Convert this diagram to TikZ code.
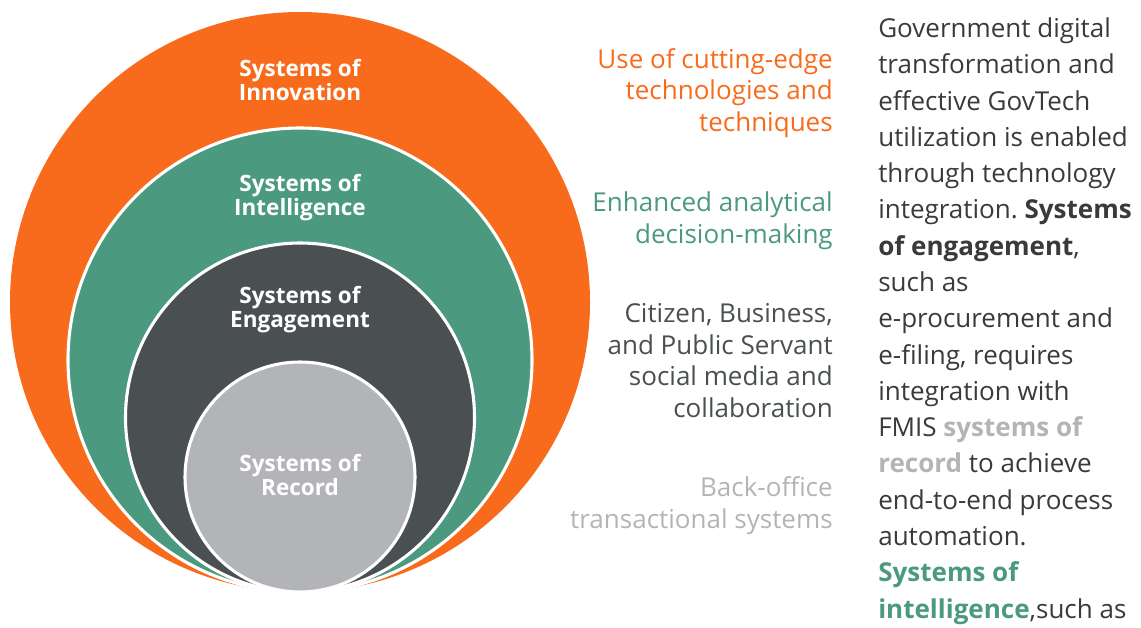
\documentclass[tikz,border=0pt]{standalone}
\usepackage{fontspec}
\setmainfont{Open Sans}
\frenchspacing

\definecolor{innovorange}{HTML}{F96B1C}
\definecolor{intelgreen}{HTML}{4B9A80}
\definecolor{engagedark}{HTML}{4A4F52}
\definecolor{recordgray}{HTML}{B3B4B7}
\definecolor{bodytext}{HTML}{3A3A3A}

\tikzset{
  ring/.style={draw=white, line width=2.2pt},
  ringlabel/.style={text=white, font=\bfseries\fontsize{16}{17}\selectfont, align=center, anchor=base, inner sep=0pt},
  tagline/.style={font=\fontsize{18.5}{22.4}\selectfont, align=right, anchor=base east, inner sep=0pt},
}

\begin{document}
\begin{tikzpicture}[x=0.025cm, y=-0.025cm]
    \useasboundingbox (0,0) rectangle (1141,627);

    % Nested rings, all touching at the bottom
    \fill[innovorange] (300,302) circle [radius=290];
    \filldraw[ring, fill=intelgreen] (300,360) circle [radius=232];
    \filldraw[ring, fill=engagedark] (300,417.5) circle [radius=174.5];
    \filldraw[ring, fill=recordgray] (300,477) circle [radius=115];

    % Ring labels (placed by the baseline of their last line)
    \node[ringlabel] (innov) at (300,100) {Systems of\\Innovation};
    \node[ringlabel] (intel) at (300,215) {Systems of\\Intelligence};
    \node[ringlabel] (engage) at (300,327) {Systems of\\Engagement};
    \node[ringlabel] (record) at (300,495) {Systems of\\Record};

    % Taglines
    \node[tagline, text=innovorange] (innovtag) at (833,131) {Use of cutting-edge\\technologies and\\techniques};
    \node[tagline, text=intelgreen] (inteltag) at (833,243) {Enhanced analytical\\decision-making};
    \node[tagline, text=engagedark] (engagetag) at (833,417) {Citizen, Business,\\and Public Servant\\social media and\\collaboration};
    \node[tagline, text=recordgray] (recordtag) at (833,528) {Back-office\\transactional systems};

    % Side text
    \node[align=left, anchor=base west, inner sep=0pt, text=bodytext,
          font=\fontsize{18.5}{25.8}\selectfont] (body) at (878,618)
      {Government digital\\
       transformation and\\
       effective GovTech\\
       utilization is enabled\\
       through technology\\
       integration. \textbf{Systems}\\
       \textbf{of engagement},\\
       such as\\
       e-procurement and\\
       e-filing, requires\\
       integration with\\
       FMIS \textcolor{recordgray}{\textbf{systems of}}\\
       \textcolor{recordgray}{\textbf{record}} to achieve\\
       end-to-end process\\
       automation.\\
       \textcolor{intelgreen}{\textbf{Systems of}}\\
       \textcolor{intelgreen}{\textbf{intelligence}},such as};
  \end{tikzpicture}
\end{document}
